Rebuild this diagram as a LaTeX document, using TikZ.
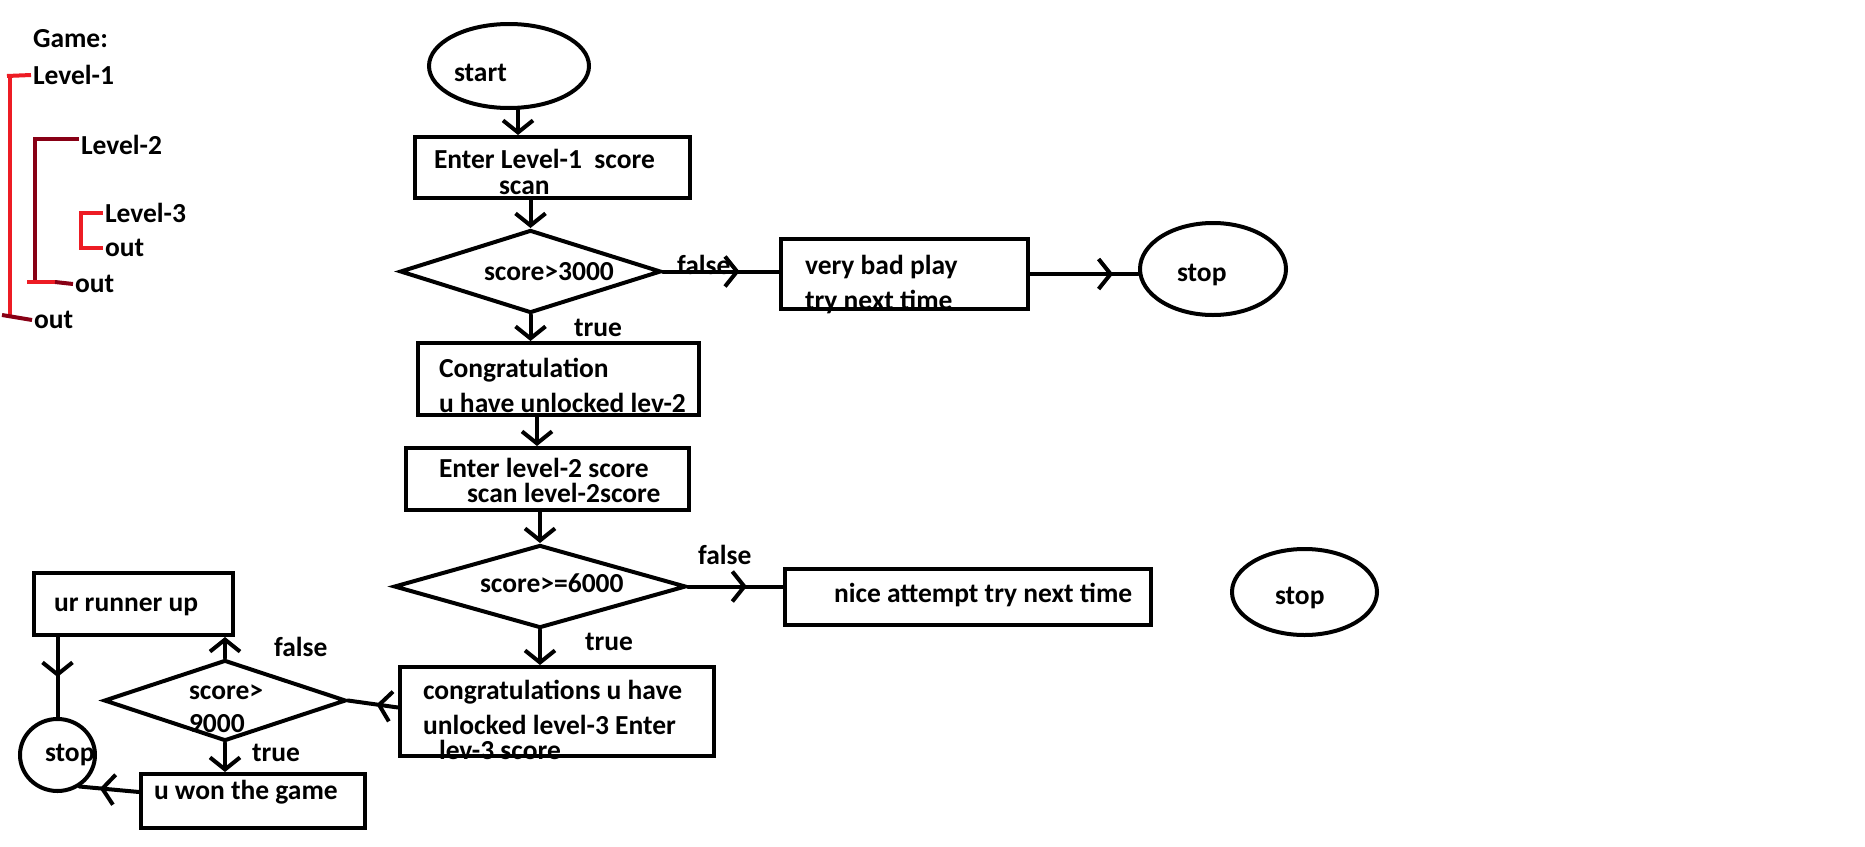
\documentclass[tikz,border=0pt]{standalone}
\usepackage{fontspec}
\setmainfont{Carlito}
\usetikzlibrary{shapes.geometric,arrows.meta,decorations.markings}
\definecolor{paintred}{HTML}{ED1C24}
\definecolor{paintdark}{HTML}{880015}

\begin{document}
\begin{tikzpicture}
      [x=1pt, y=-1pt,
       line width=4pt,
       >={Straight Barb[length=12pt,width=30pt]},
       txt/.style={
           font=\bfseries\fontsize{27.5}{35}\selectfont,
           inner sep=0pt,
           anchor=west,
           align=left
         },
       box/.style={
           rectangle,
           draw=black,
           inner sep=0pt
         },
       decision/.style={
           diamond,
           draw=black,
           inner sep=0pt
         },
       terminal/.style={
           ellipse,
           draw=black,
           inner sep=0pt
         },
       flow/.style={draw=black, line cap=round},
       midhead/.style={
           postaction={decorate},
           decoration={markings, mark=at position #1 with {\arrow{>}}}
         },
       redpen/.style={draw=paintred},
       darkpen/.style={draw=paintdark},
       ]
    \useasboundingbox (0,0) rectangle (1865,846);

    % game levels
    \node [txt] (t-game) at (31,39) {Game:};
    \node [txt] (t-lvl1) at (31,75) {Level-1};
    \node [txt] (t-lvl2) at (79,145) {Level-2};
    \node [txt] (t-lvl3) at (103,213) {Level-3};
    \node [txt] (t-out3) at (103,248) {out};
    \node [txt] (t-out2) at (73,284) {out};
    \node [txt] (t-out1) at (32,320) {out};

    \draw [redpen] (t-lvl1.west) -- (7,76);
    \draw [redpen] (10,76) -- (10,316);
    \draw [darkpen] (2,315) -- (t-out1.west);
    \draw [darkpen] ([yshift=6]t-lvl2.west) -| (35,282);
    \draw [redpen] (27,282) -- (55,282);
    \draw [darkpen] (55,282) -- (t-out2.west);
    \draw [redpen] (t-lvl3.west) -| (81,248) -- (t-out3.west);

    % texts of the flow chart
    \node [txt] (t-start) at (452,73) {start};
    \node [txt] (t-enter1) at (432,172) {Enter Level-1\ \ score\\[-9pt]\hspace*{65pt}scan};
    \node [txt] (t-check1) at (482,272) {score>3000};
    \node [txt] (t-false1) at (675,265) {false};
    \node [txt] (t-true1) at (572,328) {true};
    \node [txt] (t-badplay) at (803,284.5) {very bad play\\try next time};
    \node [txt] (t-stop1) at (1175,275) {stop};
    \node [txt] (t-unlock2) at (437,385.5) {Congratulation\\u have unlocked lev-2};
    \node [txt] (t-enter2) at (437,480) {Enter level-2 score\\[-10pt]\hspace*{28pt}scan level-2score};
    \node [txt] (t-check2) at (478,583) {score>=6000};
    \node [txt] (t-false2) at (696,555) {false};
    \node [txt] (t-true2) at (583,642) {true};
    \node [txt] (t-attempt) at (832,595) {nice attempt try next time};
    \node [txt] (t-stop2) at (1273,598) {stop};
    \node [txt] (t-unlock3) at (421,720) {congratulations u have\\unlocked level-3 Enter\\[-10pt]\hspace*{16pt}lev-3 score};
    \node [txt] (t-check3) at (187,708.5) {score>\\[-2pt]9000};
    \node [txt] (t-false3) at (272,647) {false};
    \node [txt] (t-true3) at (250,753) {true};
    \node [txt] (t-runnerup) at (52,607) {ur runner up};
    \node [txt] (t-won) at (152,792) {u won the game};
    \node [txt] (t-stop3) at (43,755) {stop};

    % shapes
    \node [terminal, minimum width=160, minimum height=84] (start) at (509,66) {};
    \node [box, minimum width=275, minimum height=61] (enter1) at (552.5,167.5) {};
    \node [decision, minimum width=261, minimum height=83] (check1) at (530.5,271.5) {};
    \node [box, minimum width=247, minimum height=70] (badplay) at (904.5,274) {};
    \node [terminal, minimum width=146, minimum height=92] (stop1) at (1213,269) {};
    \node [box, minimum width=281, minimum height=72] (unlock2) at (558.5,379) {};
    \node [box, minimum width=283, minimum height=62] (enter2) at (547.5,479) {};
    \node [decision, minimum width=292, minimum height=83] (check2) at (540,586.5) {};
    \node [box, minimum width=366, minimum height=56] (attempt) at (968,597) {};
    \node [terminal, minimum width=145, minimum height=86] (stop2) at (1304.5,592) {};
    \node [box, minimum width=314, minimum height=89] (unlock3) at (557,711.5) {};
    \node [decision, minimum width=242, minimum height=81] (check3) at (225,700.5) {};
    \node [box, minimum width=199, minimum height=62] (runnerup) at (133.5,604) {};
    \node [box, minimum width=224, minimum height=54] (won) at (253,801) {};
    \node [terminal, minimum width=75, minimum height=72] (stop3) at (57.5,755) {};

    % connectors
    \draw [flow, ->] ([xshift=9]start.south) -- ([xshift=-34.5]enter1.north);
    \draw [flow, ->] (enter1.south -| check1.north) -- (check1.north);
    \draw [flow, midhead=0.66] (check1.east) -- (check1.east -| badplay.west);
    \draw [flow, midhead=0.77] (badplay.east) -- (badplay.east -| stop1.west);
    \draw [flow, ->] (check1.south) -- (check1.south |- unlock2.north);
    \draw [flow, ->] ([xshift=-21.5]unlock2.south) -- ([xshift=-10.5]enter2.north);
    \draw [flow, ->] (enter2.south -| check2.north) -- (check2.north);
    \draw [flow, midhead=0.62] (check2.east) -- (check2.east -| attempt.west);
    \draw [flow, ->] (check2.south) -- (check2.south |- unlock3.north);
    \draw [flow, midhead=0.43] ([yshift=4]unlock3.west) -- (check3.east);
    \draw [flow, ->] (check3.north) -- (check3.north |- runnerup.south);
    \draw [flow, ->] (check3.south) -- (check3.south |- won.north);
    \draw [flow, midhead=0.5] (stop3.north |- runnerup.south) -- (stop3.north);
    \draw [flow, midhead=0.66] ([yshift=9]won.west) -- (stop3.-55);

  \end{tikzpicture}
\end{document}
